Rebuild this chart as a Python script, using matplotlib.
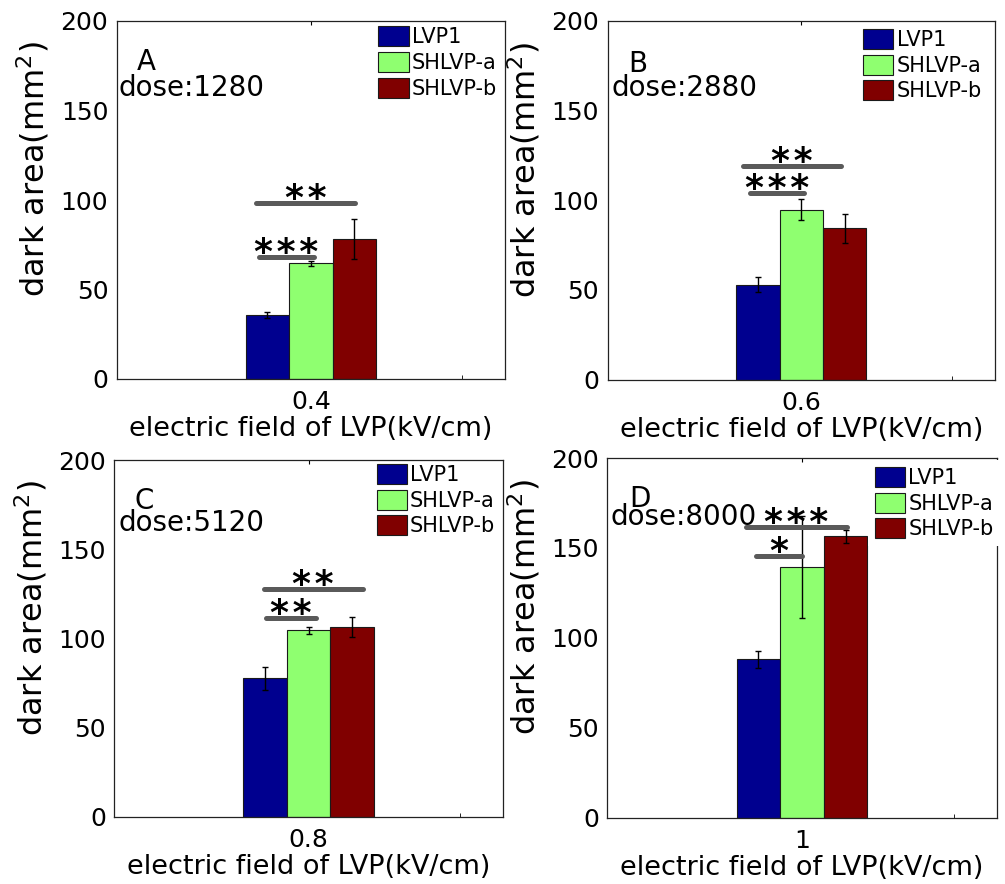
import matplotlib
matplotlib.use('Agg')
import matplotlib.pyplot as plt
import numpy as np

# ---------------- data ----------------
panel_letters = ['A', 'B', 'C', 'D']
doses = ['1280', '2880', '5120', '8000']
fields = [0.4, 0.6, 0.8, 1.0]
field_labels = ['0.4', '0.6', '0.8', '1']
series_names = ['LVP1', 'SHLVP-a', 'SHLVP-b']
series_colors = ['#00008F', '#8FFF70', '#800000']

lvp1 = [35.6, 52.9, 77.6, 88.1]
shlvp_a = [64.6, 94.8, 104.5, 139.3]
shlvp_b = [78.2, 84.4, 106.2, 156.4]
lvp1_err = [1.7, 4.3, 6.4, 4.6]
shlvp_a_err = [1.4, 6.0, 2.1, 28.5]
shlvp_b_err = [11.3, 8.2, 5.7, 3.8]

# significance brackets (start/end in bar-width units from the LVP1 bar centre)
sig_labels = [['**', '***'], ['**', '***'], ['**', '**'], ['***', '*']]
sig_y = [[98.2, 68.3], [119.0, 103.9], [127.9, 111.3], [161.6, 145.6]]
sig_x0 = [[-0.25, -0.19], [-0.35, -0.18], [-0.03, 0.02], [-0.28, -0.05]]
sig_x1 = [[2.02, 1.07], [1.92, 1.07], [2.24, 1.18], [2.03, 0.99]]

# ---------------- layout ----------------
W, H = 1005, 884
fig = plt.figure(figsize=(W / 100, H / 100), dpi=100)
axes_px = [(116.7, 21, 505, 379), (607.5, 21, 995, 379.5),
           (114.3, 460, 503, 816.7), (607.3, 458, 996.7, 817.7)]
letter_pos = [(0.052, 0.924), (0.054, 0.919), (0.053, 0.925), (0.0565, 0.926)]
dose_pos = [(0.004, 0.79), (0.011, 0.79), (0.010, 0.801), (0.009, 0.814)]
legend_pos = [(0.674, 0.985), (0.66, 0.978), (0.675, 0.989), (0.67, 0.994)]
legend_pad = [0.0, 0.0, 0.0, 0.33]

values = [lvp1, shlvp_a, shlvp_b]
errors = [lvp1_err, shlvp_a_err, shlvp_b_err]
bw = 0.112

for k in range(4):
    l, t, r, b = axes_px[k]
    ax = fig.add_axes([l / W, 1 - b / H, (r - l) / W, (b - t) / H])
    xc = fields[k]
    handles = []
    for s in range(3):
        x = xc + (s - 1) * bw
        h = ax.bar(x, values[s][k], width=bw, color=series_colors[s],
                   edgecolor='#1a1a1a', linewidth=0.8, label=series_names[s], zorder=2)
        ax.errorbar(x, values[s][k], yerr=errors[s][k], fmt='none', ecolor='black',
                    elinewidth=1.0, capsize=2.5, capthick=1.0, zorder=3)
        handles.append(h)
    # significance
    for j in range(len(sig_labels[k])):
        x0 = xc - bw + sig_x0[k][j] * bw
        x1 = xc - bw + sig_x1[k][j] * bw
        y = sig_y[k][j]
        ax.plot([x0, x1], [y, y], color='#5a5a5a', lw=3.6, solid_capstyle='round', zorder=4)
        ax.annotate('\u200a'.join(sig_labels[k][j]), xy=((x0 + x1) / 2, y), xytext=(0, -4.3),
                    textcoords='offset points', ha='center', va='baseline',
                    fontsize=26, fontweight='bold', color='black', zorder=5)
    ax.set_xlim(xc - 0.5, xc + 0.5)
    ax.set_ylim(0, 200)
    ax.set_yticks([0, 50, 100, 150, 200])
    ax.set_xticks([xc])
    ax.set_xticklabels([field_labels[k]])
    ax.set_xticks([xc + 0.39], minor=True)
    ax.tick_params(axis='x', which='major', direction='in', length=3, top=True,
                   labelsize=18, pad=8)
    ax.tick_params(axis='x', which='minor', direction='in', length=3, top=False)
    ax.tick_params(axis='y', which='major', direction='in', length=0, labelsize=18, pad=6)
    for sp in ax.spines.values():
        sp.set_linewidth(0.9)
        sp.set_color('#222222')
    ax.set_xlabel('electric field of LVP(kV/cm)', fontsize=19.5, labelpad=1.5)
    ax.set_ylabel('dark area(mm$^2$)', fontsize=23)
    ax.yaxis.set_label_coords(-0.167, 0.585)
    ax.text(letter_pos[k][0], letter_pos[k][1], panel_letters[k], transform=ax.transAxes,
            fontsize=20, ha='left', va='top')
    ax.text(dose_pos[k][0], dose_pos[k][1], 'dose:' + doses[k], transform=ax.transAxes,
            fontsize=20, ha='left', va='baseline')
    leg = ax.legend(handles=handles, loc='upper left', bbox_to_anchor=legend_pos[k],
                    fontsize=15, frameon=True, fancybox=False, framealpha=1,
                    borderpad=legend_pad[k], borderaxespad=0, handlelength=1.45,
                    handleheight=1.1, handletextpad=0.15, labelspacing=0.22)
    leg.get_frame().set_edgecolor('none')
    leg.get_frame().set_facecolor('white')
    leg.set_zorder(6)

fig.savefig('out.png', dpi=100)
